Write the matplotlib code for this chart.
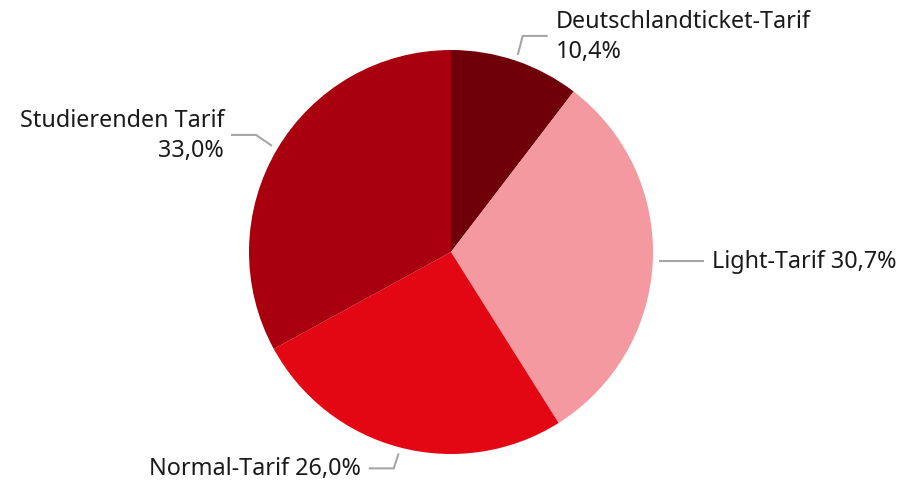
import numpy as np
import matplotlib.pyplot as plt

labels = ["Deutschlandticket-Tarif", "Light-Tarif", "Normal-Tarif", "Studierenden Tarif"]
shares = [10.4, 30.7, 26.0, 33.0]
colors = ["#6f0009", "#f4999f", "#e30613", "#a8000f"]
# label text, as shown
texts = ["Deutschlandticket-Tarif\n10,4%", "Light-Tarif 30,7%", "Normal-Tarif 26,0%", "Studierenden Tarif\n33,0%"]

plt.rcParams['font.family'] = ['Noto Sans', 'DejaVu Sans']

W, H = 917, 485
fig = plt.figure(figsize=(W / 100, H / 100), dpi=100)
ax = fig.add_axes([0, 0, 1, 1])
ax.set_xlim(0, W)
ax.set_ylim(0, H)
ax.set_aspect('equal')
ax.axis('off')

cx, cy, R = 451, 232, 202
wedges, _ = ax.pie(shares, colors=colors, startangle=90, counterclock=False,
                   center=(cx, cy), radius=R, normalize=True,
                   wedgeprops=dict(linewidth=0))
ax.set_xlim(0, W)
ax.set_ylim(0, H)

# leader line layout: (elbow dx, elbow dy, horizontal length, text gap)
layout = [(5, 19, 25, 8), (0, 0, 45, 8), (-5, -15, -25, -8), (-16, 11, -25, -7)]
total = sum(shares)
acc = 0
for txt, s, (ex, ey, hl, gap) in zip(texts, shares, layout):
    mid = 90 - 360 * (acc + s / 2) / total
    acc += s
    a = np.deg2rad(mid)
    x0, y0 = cx + 1.03 * R * np.cos(a), cy + 1.03 * R * np.sin(a)
    x1, y1 = x0 + ex, y0 + ey
    x2 = x1 + hl
    ax.plot([x0, x1, x2], [y0, y1, y1], color="#a6a6a6", lw=1.5, solid_capstyle='butt')
    ha = 'left' if hl > 0 else 'right'
    ax.text(x2 + gap, y1, txt, ha=ha, va='center', fontsize=16.8,
            color="#1a1a1a", multialignment=ha, linespacing=1.3)

fig.savefig("out.png", dpi=100)
